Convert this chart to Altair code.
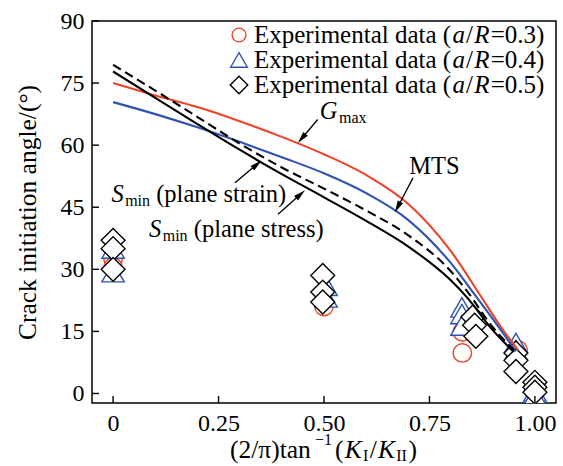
import math
import altair as alt
import pandas as pd

# ---------------- data ----------------
# theoretical curves
gmax_x = [0, 0.1, 0.2, 0.3, 0.4, 0.5, 0.6, 0.7, 0.8, 0.87, 0.92, 0.96]
gmax_y = [75.0, 72.0, 69.2, 65.8, 62.0, 57.8, 52.8, 45.8, 34.5, 23.8, 16.0, 10.5]
mts_x = [0, 0.1, 0.2, 0.3, 0.4, 0.5, 0.6, 0.7, 0.8, 0.86, 0.9, 0.955]
mts_y = [70.4, 67.5, 64.3, 60.8, 57.1, 53.2, 48.4, 41.9, 31.6, 23.5, 18.0, 10.2]
strain_x = [0, 0.1, 0.2, 0.3, 0.4, 0.5, 0.6, 0.7, 0.8, 0.84, 0.9, 0.95]
strain_y = [79.4, 73.2, 66.8, 60.4, 54.6, 49.5, 44.2, 38.2, 29.6, 24.6, 16.0, 10.5]
stress_x = [0, 0.1, 0.2, 0.3, 0.4, 0.5, 0.6, 0.7, 0.8, 0.84, 0.9, 0.95]
stress_y = [77.8, 71.4, 65.1, 58.9, 53.0, 47.4, 41.7, 35.5, 27.4, 23.1, 15.3, 10.0]

# experimental data
circ_x = [0, 0, 0.5, 0.828, 0.828, 0.96, 1.0]
circ_y = [32.5, 30.5, 21.0, 14.9, 9.8, 10.5, 0.3]
tri_x = [0, 0, 0.505, 0.505, 0.827, 0.827, 0.827, 0.955, 0.955, 1.0, 1.0]
tri_y = [35.0, 29.3, 26.0, 23.2, 20.8, 19.2, 16.4, 12.2, 10.5, 0.5, -0.5]
dia_x = [0, 0, 0, 0.497, 0.497, 0.497, 0.853, 0.857, 0.86, 0.955, 0.955, 0.955, 1.0, 1.0, 1.0]
dia_y = [37.0, 35.0, 30.0, 28.5, 24.5, 22.1, 18.5, 16.5, 13.8, 9.8, 8.0, 5.3, 2.7, 1.5, 0.3]

# axis ticks
x_ticks = [0, 0.25, 0.5, 0.75, 1.0]
y_ticks = [0, 15, 30, 45, 60, 75, 90]

# annotation arrows (start -> tip)
arrow_sx = [0.485, 0.711, 0.289, 0.391]
arrow_sy = [66.2, 52.1, 50.9, 43.3]
arrow_tx = [0.438, 0.668, 0.352, 0.455]
arrow_ty = [60.5, 43.7, 56.3, 49.1]

legend_labels = ["0.3", "0.4", "0.5"]

# ---------------- style ----------------
FONT = "Liberation Serif"
RED = "#ee4226"
BLUE = "#2f53b3"
W, H = 464, 382
XD = [-0.05, 1.05]
YD = [-2.3, 90]
PX = W / (XD[1] - XD[0])
PY = H / (YD[1] - YD[0])

REG = {' ': 250, '(': 333, ')': 333, '/': 278, '.': 250, '=': 564, '−': 564, 'π': 549,
       'a': 444, 'd': 500, 'e': 444, 'i': 278, 'l': 278, 'm': 778, 'n': 500, 'p': 500,
       'r': 333, 't': 278, 'x': 500, 'E': 611, 'I': 333, 's': 389}
ITA = {'a': 500, 'R': 611, 'K': 667, 'G': 722, 'S': 500}


def tw(s, size, italic=False):
    tab = ITA if italic else REG
    return sum(tab.get(c, 500) for c in s) / 1000.0 * size


xaxis = alt.Axis(values=x_ticks, labelExpr="datum.value == 0 ? '0' : format(datum.value, '.2f')",
                 ticks=False, tickSize=0, domain=False, grid=False, labelFont=FONT, labelFontSize=24,
                 labelColor="black", labelPadding=8, title=None)
yaxis = alt.Axis(values=y_ticks, ticks=False, tickSize=0, domain=False, grid=False, labelFont=FONT,
                 labelFontSize=24, labelColor="black", labelPadding=8,
                 title="Crack initiation angle/(°)", titleFont=FONT, titleFontSize=25.5,
                 titleFontWeight="normal", titleColor="black", titleX=-65, titleY=H / 2,
                 titleAngle=270, titleAlign="center", titleBaseline="middle")
X = alt.X("x:Q", scale=alt.Scale(domain=XD, nice=False, zero=False), axis=xaxis)
Y = alt.Y("y:Q", scale=alt.Scale(domain=YD, nice=False, zero=False), axis=yaxis)

ONE = pd.DataFrame({"x": [0.0], "y": [0.0]})
layers = []

# markers
for xs, ys, shape, col, size in [(circ_x, circ_y, "circle", RED, 340),
                                 (tri_x, tri_y, "triangle-up", BLUE, 500),
                                 (dia_x, dia_y, "diamond", "black", 570)]:
    df = pd.DataFrame({"x": xs, "y": ys})
    layers.append(alt.Chart(df).mark_point(shape=shape, size=size, filled=False, fill="white",
                                           fillOpacity=1, stroke=col, strokeWidth=1.4, opacity=1,
                                           clip=True).encode(x=X, y=Y))

# curves
for xs, ys, col, dash in [(gmax_x, gmax_y, RED, None), (mts_x, mts_y, BLUE, None),
                          (stress_x, stress_y, "black", None), (strain_x, strain_y, "black", [9, 5])]:
    df = pd.DataFrame({"x": xs, "y": ys})
    kw = dict(color=col, strokeWidth=2.1, interpolate="monotone")
    if dash:
        kw["strokeDash"] = dash
    layers.append(alt.Chart(df).mark_line(**kw).encode(x=X, y=Y))

# arrows
R_HEAD = 6.0
rows_l, rows_h = [], []
for sx, sy, tx, ty in zip(arrow_sx, arrow_sy, arrow_tx, arrow_ty):
    dxp = (tx - sx) * PX
    dyp = -(ty - sy) * PY
    L = math.hypot(dxp, dyp)
    ux, uy = dxp / L, dyp / L
    cx = tx - R_HEAD * ux / PX
    cy = ty + R_HEAD * uy / PY
    ang = math.degrees(math.atan2(ux, -uy)) % 360
    rows_l.append({"x": sx, "y": sy, "x2": cx, "y2": cy})
    rows_h.append({"x": cx, "y": cy, "ang": ang})
layers.append(alt.Chart(pd.DataFrame(rows_l)).mark_rule(color="black", strokeWidth=1.3).encode(
    x=X, y=Y, x2="x2:Q", y2="y2:Q"))
layers.append(alt.Chart(pd.DataFrame(rows_h)).mark_point(
    shape="M0,-1L-0.5,1L0.5,1Z", size=(2 * R_HEAD) ** 2, filled=True, color="black", opacity=1).encode(
    x=X, y=Y, angle=alt.Angle("ang:Q", scale=None)))


def dtext(x, y, s, dx=0, dy=0, size=23, italic=False, align="left"):
    return alt.Chart(pd.DataFrame({"x": [x], "y": [y]})).mark_text(
        text=s, dx=dx, dy=dy, fontSize=size, fontStyle="italic" if italic else "normal",
        align=align, baseline="middle", font=FONT, color="black").encode(x=X, y=Y)


def ptext(px, py, s, size, italic=False):
    return alt.Chart(ONE).mark_text(
        text=s, fontSize=size, fontStyle="italic" if italic else "normal", align="left",
        baseline="middle", font=FONT, color="black").encode(x=alt.value(px), y=alt.value(py))


F = 24.5
SUB = 16
# G_max
layers.append(dtext(0.511, 68.0, "G", size=F, italic=True, align="center"))
layers.append(dtext(0.511, 68.0, "max", dx=tw("G", F, True) / 2 + 1.5, dy=6, size=SUB))
# MTS
layers.append(dtext(0.762, 54.8, "MTS", size=F, align="center"))
# S_min labels
for ax, ay, rest in [(-0.004, 47.9, "(plane strain)"), (0.085, 39.4, "(plane stress)")]:
    layers.append(dtext(ax, ay, "S", size=F, italic=True))
    d1 = tw("S", F, True) + 1.5
    layers.append(dtext(ax, ay, "min", dx=d1, dy=6, size=SUB))
    d2 = d1 + tw("min", SUB) + tw(" ", F)
    layers.append(dtext(ax, ay, rest, dx=d2, size=F))

# x-axis title: (2/π)tan^-1(K_I/K_II)
TF, TS = 25.5, 16
px, py = 138.0, 429.0
pieces = [("(2/π)tan", TF, False, 0, 3.0), ("−1", TS, False, -10, 3.0), ("(", TF, False, 0, 1.2),
          ("K", TF, True, 0, 1.2), ("I", TS, False, 6, 1.5), ("/", TF, False, 0, 1.2),
          ("K", TF, True, 0, 1.2), ("II", TS, False, 6, 1.5), (")", TF, False, 0, 0)]
for s, sz, it, dyy, gap in pieces:
    layers.append(ptext(px, py + dyy, s, sz, it))
    px += tw(s, sz, it) + gap

# legend
LF = 25.0
for i, (lab, shape, col, size) in enumerate(zip(legend_labels, ["circle", "triangle-up", "diamond"],
                                               [RED, BLUE, "black"], [190, 280, 310])):
    ly = 14 + 25 * i
    layers.append(alt.Chart(ONE).mark_point(shape=shape, size=size, filled=False, stroke=col,
                                            strokeWidth=1.4, opacity=1).encode(
        x=alt.value(147), y=alt.value(ly)))
    lx = 162.0
    for s, it in [("Experimental data (", False), ("a", True), ("/", False), ("R", True),
                  ("=" + lab + ")", False)]:
        layers.append(ptext(lx, ly, s, LF, it))
        lx += tw(s, LF, it) + 1.2

# inward ticks
layers.append(alt.Chart(pd.DataFrame({"y": y_ticks})).mark_rule(color="black", strokeWidth=1.4).encode(
    y=Y, x=alt.value(0), x2=alt.value(7)))
layers.append(alt.Chart(pd.DataFrame({"x": x_ticks})).mark_rule(color="black", strokeWidth=1.4).encode(
    x=X, y=alt.value(H), y2=alt.value(H - 7)))

chart = alt.layer(*layers).properties(
    width=W, height=H,
    padding={"left": 92, "top": 21, "right": 7, "bottom": 63},
    autosize=alt.AutoSizeParams(type="none"),
    background="white",
).configure_view(stroke="black", strokeWidth=1.5)

chart.save("out.html", embed_options={"renderer": "svg", "actions": False})
